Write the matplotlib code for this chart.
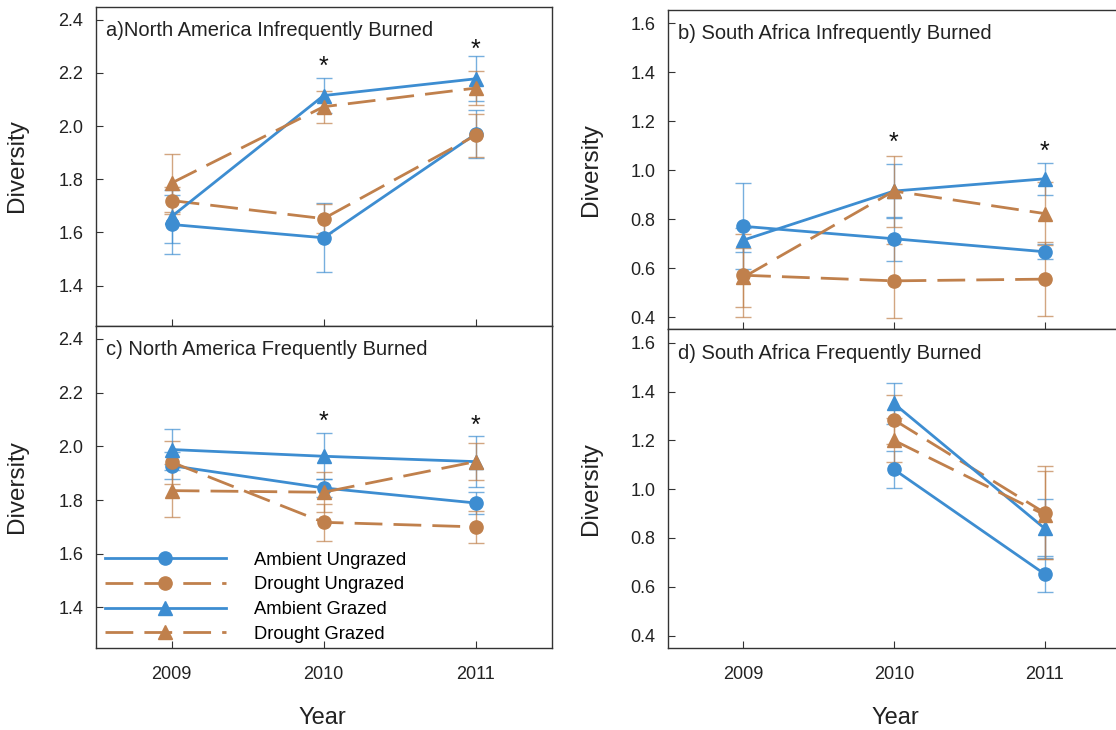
import numpy as np
import matplotlib
matplotlib.use("Agg")
import matplotlib.pyplot as plt

plt.rcParams['font.family'] = ['Liberation Sans', 'DejaVu Sans']

years = [2009, 2010, 2011]
year_labels = ['2009', '2010', '2011']
series_names = ['Ambient Ungrazed', 'Drought Ungrazed', 'Ambient Grazed', 'Drought Grazed']

# Panel a: North America Infrequently Burned
a_AU = [1.63, 1.58, 1.97];   a_AU_err = [0.11, 0.13, 0.09]
a_DU = [1.72, 1.652, 1.965]; a_DU_err = [0.05, 0.055, 0.08]
a_AG = [1.66, 2.115, 2.178]; a_AG_err = [0.10, 0.065, 0.085]
a_DG = [1.786, 2.073, 2.143]; a_DG_err = [0.11, 0.06, 0.065]
a_stars = [(2010, 2.222), (2011, 2.287)]

# Panel b: South Africa Infrequently Burned
b_AU = [0.771, 0.72, 0.667]; b_AU_err = [0.175, 0.09, 0.03]
b_DU = [0.571, 0.548, 0.555]; b_DU_err = [0.17, 0.15, 0.15]
b_AG = [0.714, 0.915, 0.965]; b_AG_err = [0.05, 0.11, 0.065]
b_DG = [0.562, 0.915, 0.823]; b_DG_err = [0.12, 0.145, 0.13]
b_stars = [(2010, 1.11), (2011, 1.075)]

# Panel c: North America Frequently Burned
c_AU = [1.928, 1.845, 1.789]; c_AU_err = [0.05, 0.035, 0.04]
c_DU = [1.941, 1.717, 1.70];  c_DU_err = [0.08, 0.07, 0.06]
c_AG = [1.988, 1.963, 1.943]; c_AG_err = [0.075, 0.085, 0.095]
c_DG = [1.835, 1.829, 1.943]; c_DG_err = [0.10, 0.075, 0.07]
c_stars = [(2010, 2.09), (2011, 2.078)]

# Panel d: South Africa Frequently Burned (no 2009 data)
d_AU = [np.nan, 1.081, 0.652]; d_AU_err = [np.nan, 0.075, 0.075]
d_DU = [np.nan, 1.284, 0.903]; d_DU_err = [np.nan, 0.10, 0.19]
d_AG = [np.nan, 1.351, 0.839]; d_AG_err = [np.nan, 0.085, 0.12]
d_DG = [np.nan, 1.20, 0.895];  d_DG_err = [np.nan, 0.09, 0.18]
d_stars = []

titles = ['a)North America Infrequently Burned', 'b) South Africa Infrequently Burned',
          'c) North America Frequently Burned', 'd) South Africa Frequently Burned']

BLUE = '#3d8dd1'
ORANGE = '#c0804c'
styles = [
    dict(color=BLUE, ls='-', marker='o'),
    dict(color=ORANGE, ls=(0, (10, 4)), marker='o'),
    dict(color=BLUE, ls='-', marker='^'),
    dict(color=ORANGE, ls=(0, (10, 4)), marker='^'),
]

W, H = 1116, 730
fig = plt.figure(figsize=(W / 100, H / 100), dpi=100)

def rect(l, t, r, b):
    return [l / W, 1 - b / H, (r - l) / W, (b - t) / H]

ax_a = fig.add_axes(rect(95.7, 6.5, 551.5, 325.5))
ax_c = fig.add_axes(rect(95.7, 325.5, 551.5, 647.7))
ax_b = fig.add_axes(rect(667.7, 10, 1120, 329.3))
ax_d = fig.add_axes(rect(667.7, 329.3, 1120, 647.7))

panels = [
    (ax_a, [a_AU, a_DU, a_AG, a_DG], [a_AU_err, a_DU_err, a_AG_err, a_DG_err], a_stars, titles[0], (1.25, 2.45), [1.4, 1.6, 1.8, 2.0, 2.2, 2.4]),
    (ax_b, [b_AU, b_DU, b_AG, b_DG], [b_AU_err, b_DU_err, b_AG_err, b_DG_err], b_stars, titles[1], (0.35, 1.655), [0.4, 0.6, 0.8, 1.0, 1.2, 1.4, 1.6]),
    (ax_c, [c_AU, c_DU, c_AG, c_DG], [c_AU_err, c_DU_err, c_AG_err, c_DG_err], c_stars, titles[2], (1.25, 2.45), [1.4, 1.6, 1.8, 2.0, 2.2, 2.4]),
    (ax_d, [d_AU, d_DU, d_AG, d_DG], [d_AU_err, d_DU_err, d_AG_err, d_DG_err], d_stars, titles[3], (0.35, 1.655), [0.4, 0.6, 0.8, 1.0, 1.2, 1.4, 1.6]),
]

legend_handles = []
for idx, (ax, vals, errs, stars, title, ylim, yticks) in enumerate(panels):
    for k, (v, e) in enumerate(zip(vals, errs)):
        st = styles[k]
        ax.errorbar(years, v, yerr=e, fmt='none', ecolor=st['color'], elinewidth=1.0,
                    capsize=6, capthick=1.0, alpha=0.7, zorder=2)
        ln, = ax.plot(years, v, color=st['color'], ls=st['ls'], lw=2.0,
                      marker=st['marker'], markersize=9.5, markeredgecolor=st['color'],
                      zorder=3)
        if idx == 2:
            legend_handles.append(ln)
    for (sx, sy) in stars:
        ax.text(sx, sy, '*', ha='center', va='center', fontsize=18, color='#111111')
    ax.set_xlim(2008.5, 2011.5)
    ax.set_ylim(*ylim)
    ax.set_yticks(yticks)
    ax.set_yticklabels([f'{t:.1f}' for t in yticks])
    ax.set_xticks(years)
    if ax in (ax_c, ax_d):
        ax.set_xticklabels(year_labels)
    else:
        ax.set_xticklabels([])
    ax.tick_params(direction='in', length=5, width=0.8, labelsize=13, color='#333333',
                   labelcolor='#222222')
    ax.tick_params(axis='y', pad=9)
    ax.tick_params(axis='x', pad=13)
    for sp in ax.spines.values():
        sp.set_color('#333333')
        sp.set_linewidth(1.0)
    ax.set_ylabel('Diversity', fontsize=17.5, color='#222222')
    ax.text(0.022, 0.925, title, transform=ax.transAxes, fontsize=14.5, color='#222222',
            ha='left', va='center')

ax_a.yaxis.set_label_coords(-(95.7 - 28) / 456, 0.5)
ax_c.yaxis.set_label_coords(-(95.7 - 28) / 456, 0.5)
ax_b.yaxis.set_label_coords(-(667.7 - 602) / 452, 0.5)
ax_d.yaxis.set_label_coords(-(667.7 - 602) / 452, 0.5)

ax_c.legend(legend_handles, series_names, loc='upper left', bbox_to_anchor=(0.02, 0.298),
            frameon=False, fontsize=13.2, handlelength=6.6, handletextpad=1.55,
            labelspacing=0.42, borderpad=0, borderaxespad=0, markerscale=1.0)

fig.text(322 / W, 1 - 718 / H, 'Year', fontsize=17, ha='center', va='center', color='#222222')
fig.text(895 / W, 1 - 718 / H, 'Year', fontsize=17, ha='center', va='center', color='#222222')

fig.savefig('out.png', dpi=100)
